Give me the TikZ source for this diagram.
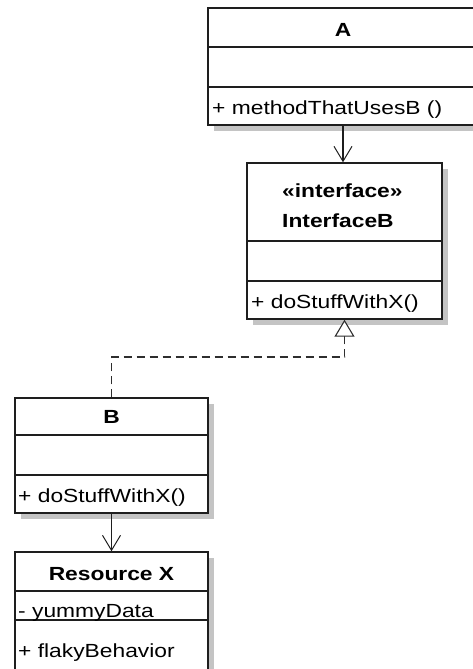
\documentclass[tikz,border=0pt]{standalone}
\usepackage{fontspec}
\setmainfont{Liberation Sans}[FakeStretch=1.2]
\usetikzlibrary{arrows.meta,shadows}

\definecolor{boxline}{HTML}{1E1E1E}
\definecolor{shadowgray}{HTML}{C4C4C4}
\definecolor{dashline}{HTML}{2E2E2E}
\newcommand{\umlfont}{\fontsize{19}{21}\selectfont}

\tikzset{
  classbox/.style={draw=boxline, line width=1.4pt, fill=white, inner sep=0pt,
    drop shadow={shadow xshift=6pt, shadow yshift=-6pt, fill=shadowgray, opacity=1}},
  compart/.style={draw=boxline, line width=1.4pt},
  cname/.style={anchor=base, inner sep=0pt, font=\umlfont\bfseries},
  member/.style={anchor=base west, inner sep=0pt, font=\umlfont},
  uses/.style={draw=boxline, line width=1.3pt, -{Straight Barb[length=15pt,width=18pt,line width=1pt]}},
  realizes/.style={draw=dashline, line width=1.7pt, dash pattern=on 8pt off 5pt,
    -{Triangle[open,length=17pt,width=20pt,line width=1.1pt,fill=white]}}
}

\begin{document}
\begin{tikzpicture}[x=1pt,y=-1pt]
    \useasboundingbox (0,0) rectangle (473,669);

    \node[classbox,minimum width=270pt,minimum height=117pt] (a) at (343,66.5) {};
    \node[classbox,minimum width=195pt,minimum height=156pt] (ib) at (344.5,241) {};
    \node[classbox,minimum width=193pt,minimum height=115pt] (b) at (111.5,455.5) {};
    \node[classbox,minimum width=193pt,minimum height=118pt] (rx) at (111.5,611) {};

    \draw[compart] (a.west |- 0,47) -- (a.east |- 0,47);
    \draw[compart] (a.west |- 0,87) -- (a.east |- 0,87);
    \draw[compart] (ib.west |- 0,241) -- (ib.east |- 0,241);
    \draw[compart] (ib.west |- 0,281) -- (ib.east |- 0,281);
    \draw[compart] (b.west |- 0,435) -- (b.east |- 0,435);
    \draw[compart] (b.west |- 0,475) -- (b.east |- 0,475);
    \draw[compart] (rx.west |- 0,591) -- (rx.east |- 0,591);
    \draw[compart] (rx.west |- 0,620) -- (rx.east |- 0,620);

    \node[cname] (aname) at (343,37) {A};
    \node[member] (aop) at (212,114) {+ methodThatUsesB ()};
    \node[cname,anchor=base west] (ibstereo) at (282,197) {«interface»};
    \node[cname,anchor=base west] (ibname) at (282,227) {InterfaceB};
    \node[member] (ibop) at (251,308) {+ doStuffWithX()};
    \node[cname] (bname) at (111.5,423) {B};
    \node[member] (bop) at (18,502) {+ doStuffWithX()};
    \node[cname] (rxname) at (111.5,580) {Resource X};
    \node[member] (rxattr) at (18,617) {- yummyData};
    \node[member] (rxop) at (18,657) {+ flakyBehavior};

    \draw[uses] (a.south) -- (a.south |- ib.north);
    \draw[uses] (b.south) -- (rx.north);
    \draw[realizes] (b.north) -- ++(0,-40) -| (ib.south);
\end{tikzpicture}
\end{document}
